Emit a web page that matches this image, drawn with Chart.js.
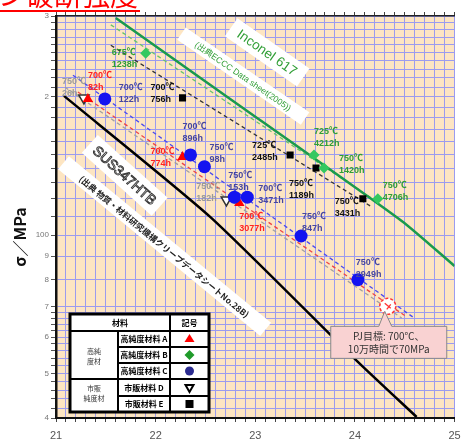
<!DOCTYPE html>
<html>
<head>
<meta charset="utf-8">
<script src="https://cdn.jsdelivr.net/npm/chart.js@4.4.1/dist/chart.umd.min.js"></script>
<style>
html, body { margin: 0; padding: 0; background: #fff; overflow: hidden; }
</style>
</head>
<body>
<canvas id="chart" width="462" height="444"></canvas>
<script>
// ---- データ (横軸: LMP / 縦軸: 応力 MPa) ----

// 高純度材 赤▲
var redLmp = [21.32, 22.27, 22.84];
var redMpa = [198, 148, 117.5];
var redTxt = [["700℃", "82h"], ["700℃", "774h"], ["700℃", "3077h"]];

// 高純度材 緑◆
var greenLmp = [21.90, 23.59, 23.69, 24.23];
var greenMpa = [249, 149.5, 140, 120];
var greenTxt = [["675℃", "1238h"], ["725℃", "4212h"], ["750℃", "1420h"], ["750℃", "4706h"]];

// 高純度材 青●
var blueLmp = [21.49, 22.35, 22.49, 22.79, 22.92, 23.46, 24.03];
var blueMpa = [198, 149.5, 141, 121, 121, 99.6, 80];
var blueTxt = [["700℃", "122h"], ["700℃", "896h"], ["750℃", "98h"], ["750℃", "153h"],
               ["700℃", "3471h"], ["750℃", "847h"], ["750℃", "2949h"]];

// 市販純度材 ▽
var grayLmp = [21.28, 22.71];
var grayMpa = [199, 119.3];
var grayTxt = [["750℃", "26h"], ["750℃", "182h"]];

// 市販純度材 ■
var blackLmp = [22.27, 23.35, 23.61, 24.08];
var blackMpa = [199, 149.5, 140, 120];
var blackTxt = [["700℃", "756h"], ["725℃", "2485h"], ["750℃", "1189h"], ["750℃", "3431h"]];

// 線
var susLmp = [21.08, 22.55, 24.03, 24.62];        // SUS347HTB
var susMpa = [201, 109.5, 53, 40.2];
var inconelLmp = [21.60, 22.72, 24.47, 25.0];     // Inconel 617
var inconelMpa = [297, 200, 107.4, 85.7];
var blueFitLmp = [21.17, 24.58];
var blueFitMpa = [223, 66.4];
var redFitLmp = [21.22, 24.52];
var redFitMpa = [205, 66.4];
var grayFitLmp = [21.09, 24.47];
var grayFitMpa = [210, 66];
var blackFitLmp = [21.55, 24.17];
var blackFitMpa = [259, 115.2];
var greenFitLmp = [21.55, 24.24];
var greenFitMpa = [287, 117.5];

// PJ目標
var targetLmp = [24.33];
var targetMpa = [70];

// 目盛
var yTicks = [40, 42, 44, 46, 48, 50, 52, 54, 56, 58, 60, 62, 64, 66, 68, 70,
              80, 90, 100, 110, 120, 130, 140, 150, 160, 170, 180, 190, 200,
              210, 220, 230, 240, 250, 260, 270, 280, 290, 300];
var yTickText = { 40: "4", 50: "5", 60: "6", 70: "7", 80: "8", 90: "9", 100: "100", 200: "2", 300: "3" };
var xTickText = { 21: "21", 22: "22", 23: "23", 24: "24", 25: "25" };

// ---- ラベル位置 (マーカーからのずれ px) ----
var redShift = [[0, -28], [-32, -10], [0, 9]];
var greenShift = [[-34, -5], [0, -28], [15, -14], [5, -18]];
var blueShift = [[14, -16], [-8, -33], [5, -24], [-6, -26], [11, -13], [1, -24], [-2, -22]];
var grayShift = [[-22, -21], [-30, -18]];
var blackShift = [[-32, -15], [-38, -14], [-27, 11], [-28, -2]];

function pts(xs, ys) {
    return xs.map(function (x, i) { return { x: x, y: ys[i] }; });
}

var FONT = '"Liberation Sans", "Noto Sans CJK JP", sans-serif';
var JFONT = '"Noto Sans CJK JP", sans-serif';

// 点ラベル: データセット番号, 文字, ずれ, 色
var pointNotes = [
    { ds: 0, txt: blueTxt, shift: blueShift, color: "#4646a0" },
    { ds: 1, txt: redTxt, shift: redShift, color: "#ff2222" },
    { ds: 2, txt: greenTxt, shift: greenShift, color: "#2f9e35" },
    { ds: 3, txt: blackTxt, shift: blackShift, color: "#111111" },
    { ds: 4, txt: grayTxt, shift: grayShift, color: "#9a9a9a" }
];

// 斜めの白抜きラベル
var slantBoxes = [
    { lmp: 23.12, mpa: 250, angle: 35, w: 88, h: 22, text: "Inconel 617", font: "13.5px " + FONT, color: "#2f9e35" },
    { lmp: 22.88, mpa: 222, angle: 34.5, w: 150, h: 15, text: "(出典ECCC Data sheet(2005))", font: "8.5px " + FONT, color: "#2f9e35" },
    { lmp: 21.69, mpa: 135, angle: 42, w: 94, h: 24, text: "SUS347HTB", font: "14px " + FONT, color: "#fff", outline: "#333" },
    { lmp: 22.09, mpa: 94.7, angle: 39.5, w: 262, h: 17, text: "(出典 物質・材料研究機構クリープデータシートNo.28B)", font: "bold 8.5px " + JFONT, color: "#222" }
];

var decorPlugin = {
    id: "decor",
    beforeDraw: function (chart) {
        var ctx = chart.ctx, a = chart.chartArea;
        ctx.save();
        ctx.fillStyle = "#fff";
        ctx.fillRect(0, 0, chart.width, chart.height);
        ctx.fillStyle = "#fde5c2";
        ctx.fillRect(a.left, a.top, a.right - a.left, a.bottom - a.top);
        ctx.restore();
    },
    beforeDatasetsDraw: function (chart) {
        var ctx = chart.ctx, xs = chart.scales.x, ys = chart.scales.y;
        slantBoxes.forEach(function (b) {
            var cx = xs.getPixelForValue(b.lmp), cy = ys.getPixelForValue(b.mpa);
            ctx.save();
            ctx.translate(cx, cy);
            ctx.rotate(b.angle * Math.PI / 180);
            ctx.fillStyle = "#fff";
            ctx.fillRect(-b.w / 2, -b.h / 2, b.w, b.h);
            ctx.font = b.font;
            ctx.textAlign = "center";
            ctx.textBaseline = "middle";
            ctx.fillStyle = b.color;
            ctx.fillText(b.text, 0, 1);
            if (b.outline) {
                ctx.strokeStyle = b.outline;
                ctx.lineWidth = 0.9;
                ctx.strokeText(b.text, 0, 1);
            }
            ctx.restore();
        });
    },
    afterDatasetsDraw: function (chart) {
        var ctx = chart.ctx, xs = chart.scales.x, ys = chart.scales.y;
        ctx.save();
        ctx.font = "bold 9px " + FONT;
        ctx.textAlign = "left";
        ctx.textBaseline = "top";
        pointNotes.forEach(function (n) {
            var meta = chart.getDatasetMeta(n.ds);
            ctx.fillStyle = n.color;
            meta.data.forEach(function (el, i) {
                var s = n.shift[i];
                ctx.fillText(n.txt[i][0], el.x + s[0], el.y + s[1]);
                ctx.fillText(n.txt[i][1], el.x + s[0], el.y + s[1] + 12);
            });
        });
        ctx.restore();

        // PJ目標
        var tx = xs.getPixelForValue(targetLmp[0]), ty = ys.getPixelForValue(targetMpa[0]);
        ctx.save();
        ctx.beginPath();
        ctx.arc(tx, ty, 8, 0, Math.PI * 2);
        ctx.fillStyle = "#fff";
        ctx.fill();
        ctx.setLineDash([3, 2]);
        ctx.strokeStyle = "#ff3333";
        ctx.lineWidth = 1.5;
        ctx.stroke();
        ctx.setLineDash([]);
        ctx.beginPath();
        ctx.moveTo(tx - 3, ty - 3);
        ctx.lineTo(tx + 3, ty + 2);
        ctx.moveTo(tx + 3, ty - 2);
        ctx.lineTo(tx - 1, ty + 3);
        ctx.lineWidth = 1.3;
        ctx.stroke();

        // 吹き出し
        var bx = tx - 57, by = ty + 20, bw = 116, bh = 32;
        ctx.beginPath();
        ctx.moveTo(bx, by);
        ctx.lineTo(tx - 9, by);
        ctx.lineTo(tx - 3, ty + 5);
        ctx.lineTo(tx + 4, by);
        ctx.lineTo(bx + bw, by);
        ctx.lineTo(bx + bw, by + bh);
        ctx.lineTo(bx, by + bh);
        ctx.closePath();
        ctx.fillStyle = "#f9d2d2";
        ctx.fill();
        ctx.strokeStyle = "#888";
        ctx.lineWidth = 1;
        ctx.stroke();
        ctx.fillStyle = "#333";
        ctx.font = "10px " + JFONT;
        ctx.textAlign = "center";
        ctx.textBaseline = "middle";
        ctx.fillText("PJ目標: 700℃、", bx + bw / 2, by + 10);
        ctx.fillText("10万時間で70MPa", bx + bw / 2, by + 23);
        ctx.restore();
    },
    afterDraw: function (chart) {
        var ctx = chart.ctx;
        ctx.save();

        // タイトル (上が切れている)
        ctx.fillStyle = "#ff0000";
        ctx.font = "28px " + JFONT;
        ctx.textAlign = "left";
        ctx.textBaseline = "alphabetic";
        ctx.fillText("ン破断強度", -2, 6);
        ctx.fillRect(0, 10, 140, 2);

        // 縦軸名
        ctx.save();
        ctx.translate(20, 237);
        ctx.rotate(-Math.PI / 2);
        ctx.fillStyle = "#111";
        ctx.font = "bold 16px " + JFONT;
        ctx.textAlign = "center";
        ctx.textBaseline = "middle";
        ctx.fillText("σ／MPa", 0, 0);
        ctx.restore();

        // 凡例の表
        var L = 70, T = 314, R = 209, B = 412, c1 = 118, c2 = 170;
        var rows = [331, 347, 363, 379, 396];
        ctx.fillStyle = "#fff";
        ctx.fillRect(L, T, R - L, B - T);
        ctx.strokeStyle = "#000";
        ctx.lineWidth = 3;
        ctx.strokeRect(L, T, R - L, B - T);
        ctx.lineWidth = 2;
        function ln(x1, y1, x2, y2) {
            ctx.beginPath(); ctx.moveTo(x1, y1); ctx.lineTo(x2, y2); ctx.stroke();
        }
        ln(L, rows[0], R, rows[0]);
        ln(c2, T, c2, B);
        ln(c1, rows[0], c1, B);
        ln(c1, rows[1], R, rows[1]);
        ln(c1, rows[2], R, rows[2]);
        ln(L, rows[3], R, rows[3]);
        ln(c1, rows[4], R, rows[4]);

        ctx.fillStyle = "#000";
        ctx.font = "bold 8px " + JFONT;
        ctx.textAlign = "center";
        ctx.textBaseline = "middle";
        ctx.fillText("材料", (L + c2) / 2, 323);
        ctx.fillText("記号", (c2 + R) / 2, 323);
        var names = ["高純度材料 A", "高純度材料 B", "高純度材料 C", "市販材料 D", "市販材料 E"];
        var mids = [339, 355, 371, 388, 404];
        names.forEach(function (n, i) { ctx.fillText(n, (c1 + c2) / 2, mids[i]); });
        ctx.fillStyle = "#333";
        ctx.font = "7px " + JFONT;
        ctx.fillText("高純", (L + c1) / 2, 351);
        ctx.fillText("度材", (L + c1) / 2, 361);
        ctx.fillText("市販", (L + c1) / 2, 388);
        ctx.fillText("純度材", (L + c1) / 2, 398);

        var sx = (c2 + R) / 2;
        // ▲
        ctx.fillStyle = "#ff0000";
        ctx.beginPath();
        ctx.moveTo(sx, mids[0] - 5); ctx.lineTo(sx + 5, mids[0] + 3); ctx.lineTo(sx - 5, mids[0] + 3);
        ctx.closePath(); ctx.fill();
        // ◆
        ctx.fillStyle = "#1f9a2a";
        ctx.beginPath();
        ctx.moveTo(sx, mids[1] - 5); ctx.lineTo(sx + 5, mids[1]); ctx.lineTo(sx, mids[1] + 5); ctx.lineTo(sx - 5, mids[1]);
        ctx.closePath(); ctx.fill();
        // ●
        ctx.fillStyle = "#2b2b90";
        ctx.beginPath();
        ctx.arc(sx, mids[2], 4.5, 0, Math.PI * 2);
        ctx.fill();
        // ▽
        ctx.strokeStyle = "#000";
        ctx.lineWidth = 2;
        ctx.beginPath();
        ctx.moveTo(sx - 4, mids[3] - 3); ctx.lineTo(sx + 4, mids[3] - 3); ctx.lineTo(sx, mids[3] + 4);
        ctx.closePath(); ctx.stroke();
        // ■
        ctx.fillStyle = "#000";
        ctx.fillRect(sx - 4, mids[4] - 4, 8, 8);

        ctx.restore();
    }
};

function isInt(v) {
    return Math.abs(v - Math.round(v)) < 1e-6;
}

var GRID = "#9b9bef";

new Chart(document.getElementById("chart"), {
    type: "scatter",
    data: {
        datasets: [
            { data: pts(blueLmp, blueMpa), pointStyle: "circle", pointRadius: 6.5, backgroundColor: "#1414f0", borderColor: "#1414f0", borderWidth: 0 },
            { data: pts(redLmp, redMpa), pointStyle: "triangle", pointRadius: 6, backgroundColor: "#ff0000", borderColor: "#ff0000", borderWidth: 0 },
            { data: pts(greenLmp, greenMpa), pointStyle: "rectRot", pointRadius: 5.5, backgroundColor: "#33c860", borderColor: "#33c860", borderWidth: 0 },
            { data: pts(blackLmp, blackMpa), pointStyle: "rect", pointRadius: 5, backgroundColor: "#000", borderColor: "#000", borderWidth: 0 },
            { data: pts(grayLmp, grayMpa), pointStyle: "triangle", rotation: 180, pointRadius: 6, backgroundColor: "#fff", borderColor: "#333", borderWidth: 1.5 },

            { data: pts(susLmp, susMpa), showLine: true, pointRadius: 0, borderColor: "#000", borderWidth: 2.5, tension: 0.2 },
            { data: pts(inconelLmp, inconelMpa), showLine: true, pointRadius: 0, borderColor: "#1a9a4c", borderWidth: 2.5, tension: 0.2 },
            { data: pts(blueFitLmp, blueFitMpa), showLine: true, pointRadius: 0, borderColor: "#4a4aee", borderWidth: 1.3, borderDash: [4, 3] },
            { data: pts(redFitLmp, redFitMpa), showLine: true, pointRadius: 0, borderColor: "#ee4444", borderWidth: 1.3, borderDash: [4, 3] },
            { data: pts(grayFitLmp, grayFitMpa), showLine: true, pointRadius: 0, borderColor: "#a0a0a0", borderWidth: 1.3, borderDash: [4, 3] },
            { data: pts(blackFitLmp, blackFitMpa), showLine: true, pointRadius: 0, borderColor: "#333", borderWidth: 1.3, borderDash: [4, 3] },
            { data: pts(greenFitLmp, greenFitMpa), showLine: true, pointRadius: 0, borderColor: "#66c46a", borderWidth: 1.3, borderDash: [4, 3] }
        ]
    },
    options: {
        responsive: false,
        animation: false,
        devicePixelRatio: 1,
        layout: { padding: 0 },
        plugins: { legend: { display: false }, tooltip: { enabled: false } },
        scales: {
            x: {
                type: "linear", position: "bottom", min: 21, max: 25,
                afterFit: function (s) { s.height = 26; s.paddingLeft = 0; s.paddingRight = 0; },
                ticks: {
                    stepSize: 0.1, autoSkip: false, maxRotation: 0, minRotation: 0, padding: 7,
                    color: "#555", font: { size: 11, family: FONT },
                    callback: function (v) { return isInt(v) ? xTickText[Math.round(v)] : ""; }
                },
                grid: { color: GRID, lineWidth: 1, tickLength: 4, tickColor: "#444" },
                border: { color: "#111", width: 2 }
            },
            x2: {
                type: "linear", position: "top", min: 21, max: 25,
                afterFit: function (s) { s.height = 16; s.paddingLeft = 0; s.paddingRight = 0; },
                ticks: { stepSize: 0.1, autoSkip: false, maxRotation: 0, minRotation: 0, callback: function () { return ""; } },
                grid: { drawOnChartArea: false, tickLength: 4, tickColor: "#444" },
                border: { color: "#222", width: 1.5 }
            },
            y: {
                type: "logarithmic", min: 40, max: 300,
                afterFit: function (s) { s.width = 56; },
                afterBuildTicks: function (s) { s.ticks = yTicks.map(function (v) { return { value: v }; }); },
                ticks: {
                    autoSkip: false, padding: 2, color: "#777", font: { size: 8, family: FONT },
                    callback: function (v) { return yTickText[v] || ""; }
                },
                grid: { color: GRID, lineWidth: 1, tickLength: 5, tickColor: "#555" },
                border: { color: "#111", width: 2.5 }
            }
        }
    },
    plugins: [decorPlugin]
});
</script>
</body>
</html>
